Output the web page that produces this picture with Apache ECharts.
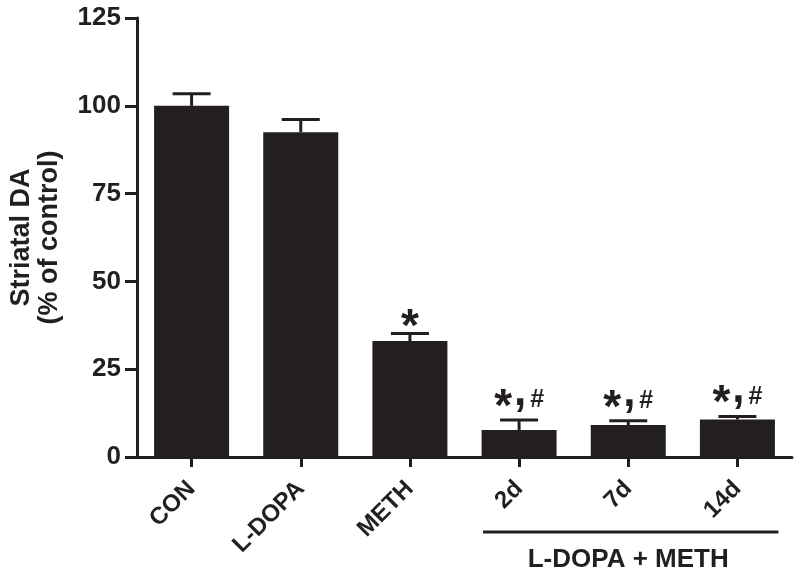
<!DOCTYPE html>
<html>
<head>
<meta charset="utf-8">
<script src="https://cdn.jsdelivr.net/npm/echarts@6/dist/echarts.min.js"></script>
<style>html,body{margin:0;padding:0;background:#fff}#c{width:800px;height:575px}</style>
</head>
<body>
<div id="c"></div>
<script>
var categories = ['CON', 'L-DOPA', 'METH', '2d', '7d', '14d'];
var means = [100, 92.5, 33, 7.7, 9.1, 10.7];
var sems = [3.4, 3.6, 2.2, 2.8, 1.2, 0.8];
var marks = ['', '', '*', '*,#', '*,#', '*,#'];
var groupLabel = 'L-DOPA + METH';
var groupRange = [3, 5];
var yTicks = [0, 25, 50, 75, 100, 125];

var INK = '#231f20';
var FONT = '"Liberation Sans", Arial, Helvetica, sans-serif';

var chart = echarts.init(document.getElementById('c'), null, {renderer: 'canvas'});

var errData = categories.map(function (c, i) { return [i, means[i], sems[i]]; });

function txt(x, y, s, size) {
  return {type: 'text', x: x, y: y, style: {text: s, fill: INK, font: 'bold ' + size + 'px ' + FONT, align: 'center', verticalAlign: 'middle'}};
}

chart.setOption({
  animation: false,
  backgroundColor: '#fff',
  grid: {left: 133, right: 8, top: 18, bottom: 118, containLabel: false},
  xAxis: {
    type: 'category',
    data: categories,
    axisLine: {show: true, lineStyle: {color: INK, width: 3}},
    axisTick: {show: true, alignWithLabel: true, length: 10, lineStyle: {color: INK, width: 3}},
    axisLabel: {rotate: 45, margin: 28, fontSize: 24, fontWeight: 'bold', fontFamily: FONT, color: INK},
    splitLine: {show: false}
  },
  yAxis: {
    type: 'value',
    min: yTicks[0],
    max: yTicks[yTicks.length - 1],
    interval: 25,
    name: 'Striatal DA\n(% of control)',
    nameLocation: 'middle',
    nameRotate: 90,
    nameGap: 73,
    nameTextStyle: {fontSize: 27, fontWeight: 'bold', fontFamily: FONT, color: INK, lineHeight: 28},
    axisLine: {show: true, lineStyle: {color: INK, width: 3}},
    axisTick: {show: true, length: 12, lineStyle: {color: INK, width: 3}},
    axisLabel: {margin: 16, fontSize: 26, fontWeight: 'bold', fontFamily: FONT, color: INK},
    splitLine: {show: false}
  },
  series: [
    {
      type: 'bar',
      data: means,
      barWidth: 75,
      itemStyle: {color: INK},
      z: 2
    },
    {
      type: 'custom',
      data: errData,
      z: 3,
      renderItem: function (params, api) {
        var i = api.value(0);
        var m = api.value(1);
        var e = api.value(2);
        var mark = marks[i];
        var base = api.coord([i, m]);
        var top = api.coord([i, m + e]);
        var x = base[0];
        var children = [
          {type: 'line', shape: {x1: x, y1: base[1], x2: x, y2: top[1]}, style: {stroke: INK, lineWidth: 3}},
          {type: 'line', shape: {x1: x - 19, y1: top[1], x2: x + 19, y2: top[1]}, style: {stroke: INK, lineWidth: 3}}
        ];
        if (mark === '*') {
          children.push(txt(x, top[1] - 5, '*', 46));
        } else if (mark) {
          children.push(txt(x - 16, top[1] - 12, '*', 46));
          children.push(txt(x + 1, top[1] - 27, ',', 44));
          children.push(txt(x + 18, top[1] - 20, '#', 25));
        }
        return {type: 'group', children: children};
      }
    },
    {
      type: 'custom',
      data: [[groupRange[0], groupRange[1]]],
      z: 3,
      renderItem: function (params, api) {
        var a = api.coord([api.value(0), 0]);
        var b = api.coord([api.value(1), 0]);
        var y = a[1] + 75;
        return {
          type: 'group',
          children: [
            {type: 'line', shape: {x1: a[0] - 36, y1: y, x2: b[0] + 41, y2: y}, style: {stroke: INK, lineWidth: 3}},
            txt((a[0] + b[0]) / 2, y + 28, groupLabel, 26)
          ]
        };
      }
    }
  ]
});
</script>
</body>
</html>
